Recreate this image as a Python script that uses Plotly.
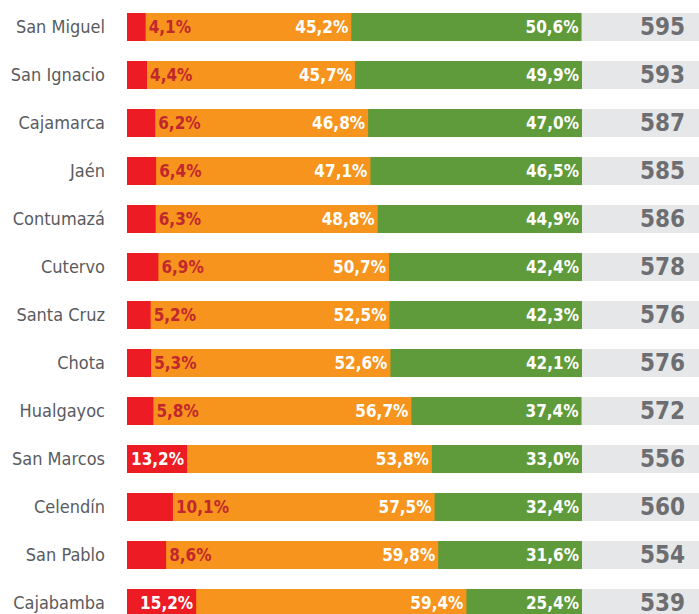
import plotly.graph_objects as go

provinces = ["San Miguel", "San Ignacio", "Cajamarca", "Jaén", "Contumazá", "Cutervo",
             "Santa Cruz", "Chota", "Hualgayoc", "San Marcos", "Celendín", "San Pablo", "Cajabamba"]
red_vals = [4.1, 4.4, 6.2, 6.4, 6.3, 6.9, 5.2, 5.3, 5.8, 13.2, 10.1, 8.6, 15.2]
orange_vals = [45.2, 45.7, 46.8, 47.1, 48.8, 50.7, 52.5, 52.6, 56.7, 53.8, 57.5, 59.8, 59.4]
green_vals = [50.6, 49.9, 47.0, 46.5, 44.9, 42.4, 42.3, 42.1, 37.4, 33.0, 32.4, 31.6, 25.4]
totals = [595, 593, 587, 585, 586, 578, 576, 576, 572, 556, 560, 554, 539]

RED = "#ed1c24"
ORANGE = "#f7941d"
GREEN = "#5f9b3a"
GRAY = "#e6e7e8"
NUM = "#6d6e71"
DARKRED = "#c1272d"
LBL = "#5a5b5d"

COND = "DejaVu Sans Condensed, Roboto, sans-serif"

def fmt(v):
    return f"{v:.1f}".replace(".", ",") + "%"

ys = list(range(len(provinces)))
W = 28 / 48
PX = 4.55  # pixels per percentage point
XMAX = 572 / PX

cum_orange = [r + o for r, o in zip(red_vals, orange_vals)]
cum_green = [r + o + g for r, o, g in zip(red_vals, orange_vals, green_vals)]

fig = go.Figure()

# gray background bar
fig.add_trace(go.Bar(
    y=ys, x=[XMAX + 5] * len(ys), orientation="h",
    marker=dict(color=GRAY, line=dict(width=0)), width=W, hoverinfo="skip"))

# green (drawn from 0 to cumulative total, rounded right end)
fig.add_trace(go.Bar(
    y=ys, x=cum_green, orientation="h",
    marker=dict(color=GREEN, line=dict(width=0), cornerradius=8), width=W,
    text=[fmt(v) for v in green_vals], textposition="inside", insidetextanchor="end",
    insidetextfont=dict(color="white", size=17, family=COND, weight="bold"),
    constraintext="none", cliponaxis=False))

# orange (0 to red+orange)
fig.add_trace(go.Bar(
    y=ys, x=cum_orange, orientation="h",
    marker=dict(color=ORANGE, line=dict(width=0)), width=W,
    text=[fmt(v) for v in orange_vals], textposition="inside", insidetextanchor="end",
    insidetextfont=dict(color="white", size=17, family=COND, weight="bold"),
    constraintext="none", cliponaxis=False))

# red
red_pos = ["inside" if v > 12 else "outside" for v in red_vals]
fig.add_trace(go.Bar(
    y=ys, x=red_vals, orientation="h",
    marker=dict(color=RED, line=dict(width=0)), width=W,
    text=[fmt(v) for v in red_vals], textposition=red_pos, insidetextanchor="end",
    insidetextfont=dict(color="white", size=17, family=COND, weight="bold"),
    outsidetextfont=dict(color=DARKRED, size=17, family=COND, weight="bold"),
    constraintext="none", cliponaxis=False))

# totals
for y, t in zip(ys, totals):
    fig.add_annotation(x=(687 - 127) / PX, y=y, text=str(t), showarrow=False,
                       xanchor="right", yanchor="middle",
                       font=dict(color=NUM, size=24, family=COND, weight="bold"))

fig.update_layout(
    width=699, height=614, barmode="overlay", showlegend=False,
    margin=dict(l=127, r=0, t=0, b=0, autoexpand=False),
    paper_bgcolor="white", plot_bgcolor="white",
    xaxis=dict(range=[0, XMAX], visible=False, fixedrange=True, automargin=False),
    yaxis=dict(range=[(614 - 27) / 48, -27 / 48], tickvals=ys, ticktext=provinces,
               showgrid=False, zeroline=False, showline=False, ticks="",
               ticklabelstandoff=21, automargin=False, fixedrange=True,
               tickfont=dict(color=LBL, size=18, family=COND)),
)

fig.write_html("out.html", config={"displayModeBar": False},
               post_script="document.body.style.margin='0';document.body.style.overflow='hidden';")
